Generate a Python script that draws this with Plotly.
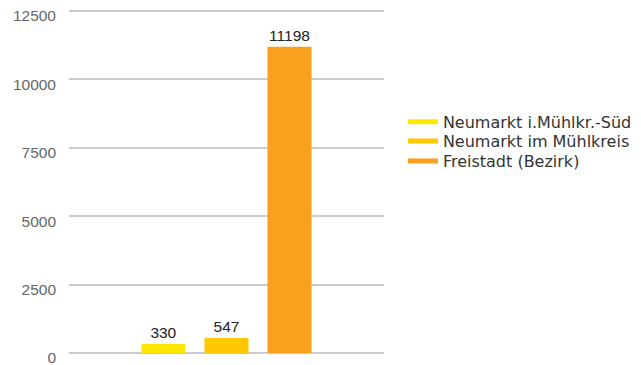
import plotly.graph_objects as go

series = ["Neumarkt i.Mühlkr.-Süd", "Neumarkt im Mühlkreis", "Freistadt (Bezirk)"]
values = [330, 547, 11198]
colors = ["#FFE800", "#FFC800", "#F9A01E"]
category = [""]
y_ticks = [0, 2500, 5000, 7500, 10000, 12500]
y_tick_labels = ["0", "2500", "5000", "7500", "10000", "12500"]

FONT = "Liberation Sans, Arial, Helvetica"
LEGEND_FONT = "DejaVu Sans, Liberation Sans, Arial"
legend_names = ["legend", "legend2", "legend3"]
legend_y = [0.672, 0.616, 0.558]

fig = go.Figure()
for i, (name, v, c) in enumerate(zip(series, values, colors)):
    fig.add_trace(go.Bar(
        x=category, y=[v], name=name, legendgroup=f"g{i}", showlegend=False,
        marker=dict(color=c, line=dict(width=0)),
        text=[str(v)], textposition="outside", cliponaxis=False,
        textfont=dict(family=FONT, size=15.5, color="#222222"),
    ))
for i, (name, c) in enumerate(zip(series, colors)):
    fig.add_trace(go.Scatter(
        x=[None], y=[None], name=name, legendgroup=f"g{i}", mode="lines",
        line=dict(color=c, width=5), showlegend=True, legend=legend_names[i],
    ))

legend_common = dict(x=1.060, xanchor="left", yanchor="middle",
                     font=dict(family=LEGEND_FONT, size=16, color="#333333"),
                     itemwidth=30, bgcolor="rgba(0,0,0,0)")

fig.update_layout(
    width=633, height=357,
    margin=dict(l=61, r=257, t=1, b=12),
    paper_bgcolor="white", plot_bgcolor="white",
    barmode="group", bargap=0.4, bargroupgap=0.3,
    font=dict(family=FONT, size=15.5, color="#666666"),
    showlegend=True,
    legend=dict(y=legend_y[0], **legend_common),
    legend2=dict(y=legend_y[1], **legend_common),
    legend3=dict(y=legend_y[2], **legend_common),
    xaxis=dict(showticklabels=False, showgrid=False, zeroline=False, showline=False,
               automargin=False),
    yaxis=dict(range=[0, 12575], tickvals=y_ticks, ticktext=y_tick_labels,
               showgrid=True, gridcolor="#CCCCD0", gridwidth=1.5,
               zeroline=True, zerolinecolor="#CCCCD0", zerolinewidth=1.5,
               showline=False, automargin=False, ticklabeloverflow="allow",
               tickfont=dict(family=FONT, size=15.5, color="#666666"),
               ticks="", ticklabelstandoff=12, ticklabelshift=5),
)
fig.write_html("out.html")
